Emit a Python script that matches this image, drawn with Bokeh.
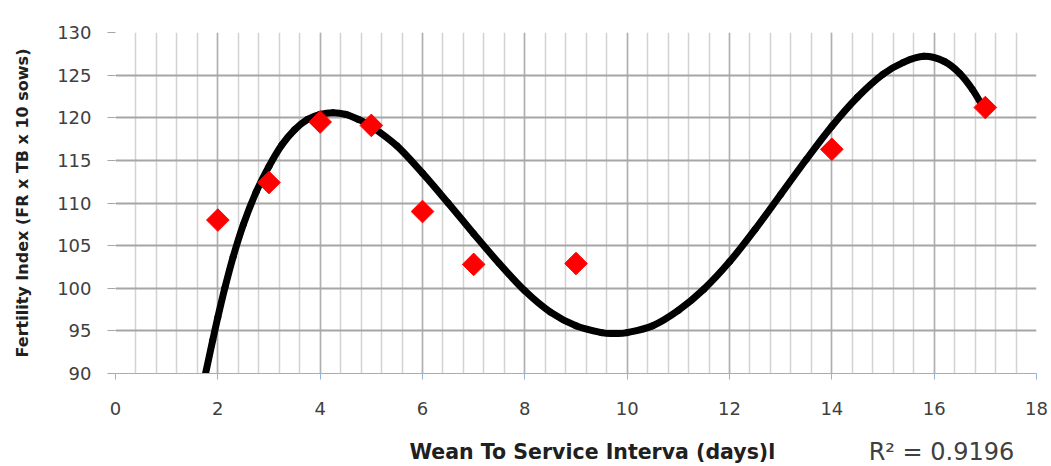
import numpy as np
from bokeh.plotting import figure
from bokeh.layouts import column
from bokeh.models import Range1d, SingleIntervalTicker, ColumnDataSource
from bokeh.core.properties import value
from bokeh.embed import file_html
from bokeh.resources import INLINE

# observed points
interval_days = [2, 3, 4, 5, 6, 7, 9, 14, 17]
fertility_index = [108.0, 112.4, 119.5, 119.1, 109.0, 102.8, 102.9, 116.3, 121.2]

# polynomial trend line
trend_x = [1.76, 1.90, 2.00, 2.14, 2.30, 2.50, 2.75, 3.00, 3.25, 3.50, 3.75, 4.00, 4.25,
           4.50, 4.75, 5.00, 5.50, 6.00, 6.50, 7.00, 7.50, 8.00, 8.50, 9.00, 9.50,
           9.75, 10.00, 10.50, 11.00, 11.50, 12.00, 12.50, 13.00, 13.50, 14.00,
           14.50, 15.00, 15.40, 15.80, 16.20, 16.50, 16.75, 17.00]
trend_y = [90.0, 93.9, 96.6, 100.1, 103.7, 107.5, 111.3, 114.3, 116.8, 118.6, 119.8, 120.4, 120.6,
           120.4, 119.8, 119.0, 116.7, 113.5, 110.0, 106.4, 102.9, 99.7, 97.2, 95.6, 94.8,
           94.7, 94.8, 95.6, 97.4, 99.9, 103.1, 106.9, 111.0, 115.1, 119.0,
           122.4, 125.1, 126.5, 127.2, 126.6, 125.2, 123.3, 120.8]

x_title = "Wean To Service Interva (days)l"
y_title = "Fertility Index (FR x TB x 10 sows)"
r2_text = "R\u00b2 = 0.9196"

p = figure(width=1051, height=430, output_backend="svg", toolbar_location=None,
           x_range=Range1d(0, 18), y_range=Range1d(90, 130),
           min_border_left=115, min_border_right=15, min_border_top=32, min_border_bottom=57)
p.outline_line_color = None
p.background_fill_color = "white"
p.border_fill_color = "white"

# x axis
p.xaxis.ticker = SingleIntervalTicker(interval=2, num_minor_ticks=5)
p.xaxis.axis_line_color = "#8db3e2"
p.xaxis.axis_line_width = 1
p.xaxis.major_tick_line_color = "#8db3e2"
p.xaxis.major_tick_out = 6
p.xaxis.major_tick_in = 0
p.xaxis.minor_tick_line_color = None
p.xaxis.major_label_standoff = 22
p.xaxis.major_label_text_font = "DejaVu Sans"
p.xaxis.major_label_text_font_size = "18px"
p.xaxis.major_label_text_color = "#404040"

# y axis
p.yaxis.ticker = SingleIntervalTicker(interval=5, num_minor_ticks=0)
p.yaxis.axis_line_color = None
p.yaxis.major_tick_line_color = "#a6a6a6"
p.yaxis.major_tick_out = 8
p.yaxis.major_tick_in = 0
p.yaxis.minor_tick_line_color = None
p.yaxis.major_label_standoff = 16
p.yaxis.major_label_text_font = "DejaVu Sans"
p.yaxis.major_label_text_font_size = "18px"
p.yaxis.major_label_text_color = "#404040"
p.yaxis.axis_label = y_title
p.yaxis.axis_label_text_font = "DejaVu Sans"
p.yaxis.axis_label_text_font_style = "bold"
p.yaxis.axis_label_text_font_size = "16px"
p.yaxis.axis_label_text_color = "#202020"
p.yaxis.axis_label_standoff = 22

# grids
p.xgrid.ticker = SingleIntervalTicker(interval=2, num_minor_ticks=5)
p.xgrid.grid_line_color = "#b0b0b0"
p.xgrid.grid_line_width = 1.5
p.xgrid.minor_grid_line_color = "#d2d2d2"
p.xgrid.minor_grid_line_width = 1.5
p.ygrid.ticker = SingleIntervalTicker(interval=5, num_minor_ticks=0)
p.ygrid.grid_line_color = "#a6a6a6"
p.ygrid.grid_line_width = 1.8

# trend line: smooth curve through the read points (Catmull-Rom -> cubic Bezier)
tx = np.array(trend_x)
ty = np.array(trend_y)
px_ = np.concatenate([[tx[0]], tx, [tx[-1]]])
py_ = np.concatenate([[ty[0]], ty, [ty[-1]]])
n = len(tx)
seg = dict(
    x0=tx[:-1], y0=ty[:-1], x1=tx[1:], y1=ty[1:],
    cx0=tx[:-1] + (px_[2:n + 1] - px_[0:n - 1]) / 6.0,
    cy0=ty[:-1] + (py_[2:n + 1] - py_[0:n - 1]) / 6.0,
    cx1=tx[1:] - (px_[3:n + 2] - px_[1:n]) / 6.0,
    cy1=ty[1:] - (py_[3:n + 2] - py_[1:n]) / 6.0,
)
p.bezier("x0", "y0", "x1", "y1", "cx0", "cy0", "cx1", "cy1", source=ColumnDataSource(seg),
         line_color="black", line_width=7, line_cap="round")

# points
src = ColumnDataSource(dict(x=interval_days, y=fertility_index))
p.scatter("x", "y", source=src, marker="square", angle=np.pi / 4, size=16,
          fill_color="#ff0000", line_color="#ff0000")

# bottom strip with the x title and R^2 text
p2 = figure(width=1051, height=34, output_backend="svg", toolbar_location=None,
            x_range=p.x_range, y_range=Range1d(0, 34),
            x_axis_location=None, y_axis_location=None,
            min_border=0, min_border_left=115, min_border_right=15)
p2.outline_line_color = None
p2.grid.visible = False
p2.background_fill_color = "white"
p2.border_fill_color = "white"
p2.text(x=[9.32], y=[13], text=[x_title], text_align="center", text_baseline="middle",
        text_font=value("DejaVu Sans"), text_font_style="bold", text_font_size="20.5px",
        text_color="#202020")
p2.text(x=[14.72], y=[13], text=[r2_text], text_align="left", text_baseline="middle",
        text_font=value("DejaVu Sans"), text_font_size="24px", text_color="#404040")

layout = column(p, p2, spacing=0)
open("out.html", "w").write(file_html(layout, INLINE))
